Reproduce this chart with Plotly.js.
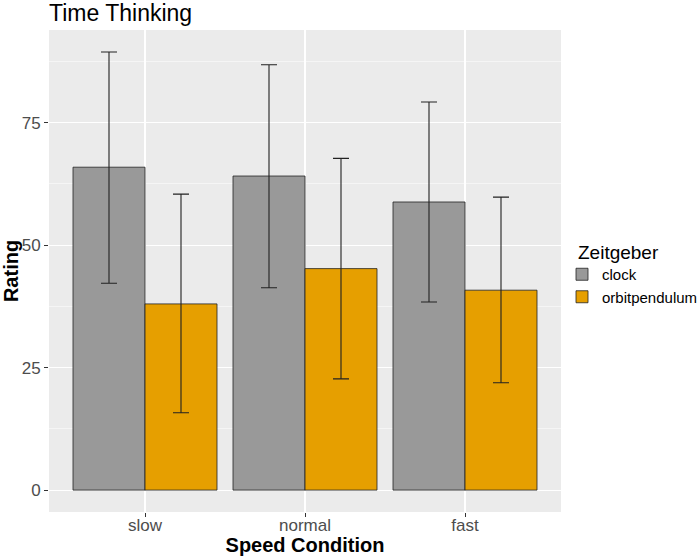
<!DOCTYPE html>
<html>
<head>
<meta charset="utf-8">
<script src="https://cdn.plot.ly/plotly-3.0.1.min.js"></script>
<style>html,body{margin:0;padding:0;background:#fff;}#chart{width:699px;height:556px;}</style>
</head>
<body>
<div id="chart"></div>
<script>
const categories = ["slow", "normal", "fast"];
const groups = ["clock", "orbitpendulum"];
const legendTitle = "Zeitgeber";
const clockMean = [65.9, 64.1, 58.8];
const clockUpper = [89.4, 86.8, 79.2];
const clockLower = [42.2, 41.3, 38.4];
const orbitMean = [38.0, 45.2, 40.8];
const orbitUpper = [60.4, 67.7, 59.8];
const orbitLower = [15.8, 22.7, 21.9];
const yTicks = [0, 25, 50, 75];

const FONT = "Liberation Sans, Arial, sans-serif";

function mk(name, mean, up, lo, color) {
  return {
    type: "bar",
    name: name,
    x: categories,
    y: mean,
    marker: {color: color, line: {color: "#222222", width: 0.8}},
    error_y: {
      type: "data", symmetric: false,
      array: up.map((u, i) => u - mean[i]),
      arrayminus: lo.map((l, i) => mean[i] - l),
      color: "#222222", thickness: 1.1, width: 8
    },
    hoverinfo: "skip"
  };
}

const data = [
  mk(groups[0], clockMean, clockUpper, clockLower, "#999999"),
  mk(groups[1], orbitMean, orbitUpper, orbitLower, "#E69F00")
];

const layout = {
  width: 699, height: 556,
  margin: {l: 49, r: 138, t: 29.5, b: 44, pad: 0, autoexpand: false},
  paper_bgcolor: "#ffffff",
  plot_bgcolor: "#EBEBEB",
  font: {family: FONT, color: "#000"},
  barmode: "group",
  bargap: 0.1,
  bargroupgap: 0,
  title: {
    text: "Time Thinking",
    font: {family: FONT, size: 23, color: "#000"},
    x: 49/699, xanchor: "left", xref: "container",
    y: 1 - 13/556, yanchor: "middle", yref: "container"
  },
  xaxis: {
    type: "category",
    range: [-0.6, 2.6],
    showgrid: true, gridcolor: "#ffffff", gridwidth: 1.1,
    zeroline: false, showline: false,
    ticks: "outside", ticklen: 4, tickcolor: "#333333", tickwidth: 1,
    ticklabelstandoff: -6,
    tickfont: {family: FONT, size: 17, color: "#4D4D4D"},
    title: {text: "<b>Speed Condition</b>", font: {family: FONT, size: 20, color: "#000"}, standoff: 6},
    fixedrange: true
  },
  yaxis: {
    range: [-4.47, 93.9],
    tickvals: yTicks,
    ticktext: yTicks.map(String),
    showgrid: true, gridcolor: "#ffffff", gridwidth: 1.1,
    minor: {tickvals: [12.5, 37.5, 62.5, 87.5], showgrid: true, gridcolor: "#ffffff", gridwidth: 0.5, ticks: ""},
    zeroline: false, showline: false,
    ticks: "outside", ticklen: 4, tickcolor: "#333333", tickwidth: 1,
    tickfont: {family: FONT, size: 17, color: "#4D4D4D"},
    title: {text: "<b>Rating</b>", font: {family: FONT, size: 20, color: "#000"}, standoff: 5},
    fixedrange: true
  },
  showlegend: true,
  legend: {
    xref: "container", yref: "container",
    x: 562/699, xanchor: "left",
    y: 1 - 258/556, yanchor: "top",
    bgcolor: "rgba(0,0,0,0)",
    font: {family: FONT, size: 15, color: "#000"},
    tracegroupgap: 0,
    itemclick: false, itemdoubleclick: false
  },
  annotations: [{
    text: legendTitle,
    xref: "paper", yref: "paper",
    x: (576 - 49) / 512, xanchor: "left",
    y: (512 - 252) / 482.5, yanchor: "middle",
    showarrow: false,
    font: {family: FONT, size: 19, color: "#000"}
  }]
};

Plotly.newPlot("chart", data, layout, {staticPlot: true, displayModeBar: false});
</script>
</body>
</html>
